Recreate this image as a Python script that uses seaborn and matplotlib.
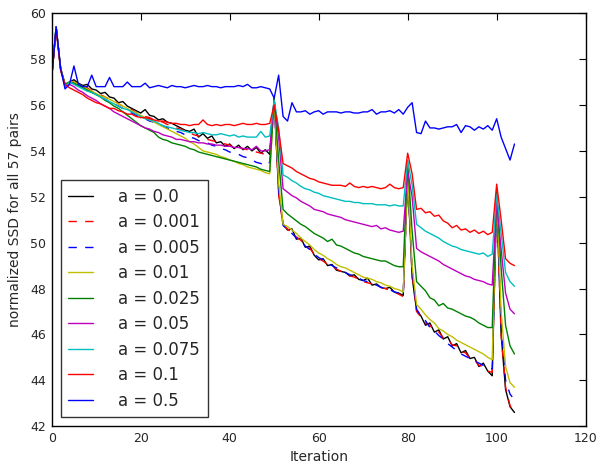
import matplotlib
matplotlib.use("Agg")
import matplotlib.pyplot as plt
import pandas as pd
import seaborn as sns

# iteration index shared by all runs
iterations = list(range(105))

# normalized SSD per run
ssd_a0 = [
    57.2, 59.4, 57.6, 56.9, 57.0, 57.1, 56.95, 56.85, 56.9, 56.7,
    56.65, 56.5, 56.55, 56.35, 56.3, 56.1, 56.15, 55.95, 55.85, 55.75,
    55.65, 55.8, 55.55, 55.5, 55.35, 55.4, 55.25, 55.2, 55.1, 55.0,
    54.9, 54.85, 54.95, 54.6, 54.75, 54.55, 54.65, 54.35, 54.4, 54.2,
    54.3, 54.1, 54.25, 54.05, 54.2, 54.0, 54.15, 53.9, 54.05, 53.85,
    56.3, 52.2, 50.8, 50.55, 50.6, 50.15, 50.2, 49.8, 49.85, 49.45,
    49.25, 49.3, 49.0, 49.05, 48.8, 48.75, 48.7, 48.55, 48.6, 48.4,
    48.35, 48.45, 48.15, 48.2, 48.05, 48.0, 48.05, 47.85, 47.8, 47.7,
    53.0, 48.5, 47.05, 46.8, 46.4, 46.5, 46.1, 46.2, 45.8, 45.9,
    45.5, 45.6, 45.2, 45.3, 44.95, 45.0, 44.6, 44.75, 44.4, 44.2,
    52.0, 46.0, 43.6, 42.85, 42.6,
]
ssd_a0001 = [
    57.2, 59.4, 57.6, 56.85, 57.0, 57.0, 56.9, 56.8, 56.75, 56.6,
    56.55, 56.45, 56.35, 56.25, 56.2, 56.05, 55.95, 55.85, 55.8, 55.65,
    55.6, 55.5, 55.45, 55.35, 55.3, 55.25, 55.15, 55.1, 55.0, 54.95,
    54.85, 54.8, 54.7, 54.65, 54.55, 54.5, 54.45, 54.4, 54.35, 54.3,
    54.25, 54.2, 54.15, 54.1, 54.05, 54.0, 53.95, 53.9, 53.85, 53.8,
    56.3, 52.1, 50.75, 50.6, 50.4, 50.25, 50.1, 49.9, 49.75, 49.5,
    49.3, 49.2, 49.05, 48.95, 48.85, 48.75, 48.65, 48.55, 48.5, 48.4,
    48.3, 48.25, 48.2, 48.1, 48.05, 48.0, 47.9, 47.85, 47.75, 47.65,
    53.0, 48.6, 47.0, 46.75, 46.5, 46.4, 46.15, 46.1, 45.85, 45.8,
    45.55, 45.5, 45.25, 45.2, 44.95, 44.9, 44.65, 44.6, 44.4, 44.35,
    52.0, 46.0, 43.7, 42.9, 42.6,
]
ssd_a0005 = [
    57.2, 59.4, 57.6, 56.85, 56.95, 56.95, 56.85, 56.75, 56.65, 56.55,
    56.45, 56.35, 56.25, 56.15, 56.05, 55.95, 55.85, 55.75, 55.65, 55.55,
    55.45, 55.4, 55.3, 55.25, 55.15, 55.1, 55.0, 54.95, 54.85, 54.8,
    54.7, 54.6, 54.55, 54.45, 54.4, 54.35, 54.25, 54.2, 54.1, 54.05,
    53.95, 53.9, 53.85, 53.75, 53.7, 53.6, 53.5, 53.45, 53.35, 53.5,
    56.2, 52.3, 50.75, 50.6, 50.4, 50.2, 50.05, 49.85, 49.7, 49.5,
    49.35, 49.25, 49.1, 49.0, 48.9, 48.8, 48.7, 48.6, 48.55, 48.45,
    48.35, 48.3, 48.2, 48.15, 48.05, 48.0, 47.95, 47.85, 47.8, 47.75,
    53.0, 48.8, 47.1, 46.8, 46.6, 46.3, 46.15, 45.95, 45.8, 45.6,
    45.45, 45.3, 45.15, 45.05, 44.95, 44.85, 44.75, 44.65, 44.55, 44.5,
    52.0, 46.5, 44.0, 43.4, 43.15,
]
ssd_a001 = [
    57.2, 59.4, 57.6, 56.9, 57.0, 57.0, 56.9, 56.8, 56.7, 56.6,
    56.5, 56.4, 56.35, 56.25, 56.15, 56.05, 55.95, 55.85, 55.75, 55.65,
    55.55, 55.45, 55.35, 55.25, 55.15, 55.05, 54.95, 54.85, 54.75, 54.65,
    54.55, 54.4, 54.3, 54.15, 54.0, 53.95, 53.9, 53.85, 53.75, 53.7,
    53.6, 53.55, 53.45, 53.4, 53.3, 53.25, 53.2, 53.15, 53.05, 53.0,
    56.2, 52.6, 50.8, 50.7, 50.55, 50.4, 50.2, 50.05, 49.9, 49.7,
    49.55, 49.45, 49.3, 49.2, 49.05, 48.95, 48.9, 48.8, 48.7, 48.6,
    48.5, 48.45, 48.4, 48.3, 48.25, 48.15, 48.1, 48.0, 47.95, 47.85,
    53.0, 49.0, 47.3, 47.1, 46.85, 46.65, 46.5, 46.25, 46.15, 46.0,
    45.9, 45.75, 45.65, 45.55, 45.45, 45.35, 45.25, 45.15, 45.0, 44.9,
    52.3, 47.0, 44.6, 43.9, 43.7,
]
ssd_a0025 = [
    57.2, 59.4, 57.6, 56.9, 57.0, 56.95, 56.85, 56.75, 56.65, 56.55,
    56.45, 56.35, 56.2, 56.1, 55.95, 55.85, 55.7, 55.55, 55.4, 55.25,
    55.1, 55.0, 54.9, 54.8, 54.6, 54.5, 54.45, 54.35, 54.3, 54.25,
    54.2, 54.1, 54.05, 53.95, 53.9, 53.85, 53.8, 53.75, 53.7, 53.65,
    53.6, 53.55, 53.5, 53.45, 53.4, 53.35, 53.3, 53.2, 53.15, 53.1,
    56.3, 53.6, 51.45, 51.25, 51.1, 50.95, 50.8, 50.7, 50.55, 50.4,
    50.3, 50.2, 50.05, 50.15, 49.9, 49.85, 49.75, 49.65, 49.55, 49.5,
    49.4, 49.35, 49.3, 49.25, 49.2, 49.2, 49.1, 49.0, 48.95, 48.95,
    53.5, 50.5, 48.3, 48.1, 47.9, 47.6, 47.5, 47.25, 47.35, 47.15,
    47.1, 47.0, 46.9, 46.8, 46.75, 46.65, 46.5, 46.4, 46.3, 46.3,
    52.2, 48.9, 46.4, 45.5, 45.15,
]
ssd_a005 = [
    57.2, 59.4, 57.6, 56.8, 56.9, 56.8, 56.65, 56.55, 56.4, 56.3,
    56.2, 56.05, 55.95, 55.85, 55.7, 55.6, 55.5, 55.4, 55.3, 55.2,
    55.1, 55.0, 54.95, 54.85, 54.8, 54.7, 54.65, 54.6, 54.5, 54.5,
    54.45, 54.4, 54.4, 54.35, 54.35, 54.3, 54.3, 54.25, 54.25, 54.2,
    54.2, 54.15, 54.15, 54.1, 54.1, 54.05, 54.2, 54.0, 54.0, 54.05,
    56.2, 54.6, 52.35, 52.2, 52.05, 51.95, 51.8, 51.7, 51.6, 51.45,
    51.4, 51.35, 51.25, 51.2, 51.15, 51.1, 51.0, 50.95, 50.9, 50.85,
    50.8, 50.75, 50.7, 50.75, 50.6, 50.65, 50.55, 50.5, 50.45, 50.5,
    53.1, 52.0, 49.75, 49.6, 49.5, 49.4, 49.3, 49.2, 49.05, 48.95,
    48.85, 48.75, 48.65, 48.55, 48.5, 48.4, 48.35, 48.3, 48.2, 48.15,
    51.8, 49.7, 47.8, 47.1, 46.9,
]
ssd_a0075 = [
    57.2, 59.4, 57.6, 56.8, 57.0, 56.9, 56.8, 56.7, 56.6, 56.55,
    56.45, 56.35, 56.25, 56.15, 56.05, 55.95, 55.85, 55.8, 55.7, 55.6,
    55.5, 55.4, 55.35, 55.3, 55.2, 55.1, 55.05, 55.0, 54.95, 54.9,
    54.85, 54.8, 54.8, 54.75, 54.8, 54.75, 54.7, 54.7, 54.75, 54.7,
    54.65, 54.7, 54.6, 54.65, 54.6, 54.6, 54.6, 54.85, 54.6, 54.65,
    56.2, 55.0, 52.95, 52.85, 52.7, 52.6, 52.45, 52.35, 52.3, 52.2,
    52.15, 52.05, 52.0, 51.95, 51.9, 51.85, 51.8, 51.8, 51.75, 51.75,
    51.7, 51.7, 51.7, 51.65, 51.65, 51.65, 51.6, 51.65, 51.6, 51.6,
    53.6, 52.5, 50.8, 50.65, 50.5, 50.4, 50.3, 50.2, 50.05, 49.95,
    49.85, 49.8, 49.7, 49.65, 49.6, 49.55, 49.5, 49.55, 49.4, 49.5,
    52.1, 50.4, 48.7, 48.3, 48.1,
]
ssd_a01 = [
    57.2, 59.3, 57.5, 56.9, 56.75, 56.65, 56.55, 56.45, 56.3, 56.2,
    56.1, 56.05, 55.95, 55.85, 55.85, 55.75, 55.7, 55.6, 55.6, 55.5,
    55.45, 55.45, 55.4, 55.35, 55.3, 55.3, 55.25, 55.2, 55.2, 55.15,
    55.15, 55.1, 55.15, 55.15, 55.35, 55.15, 55.1, 55.15, 55.1, 55.15,
    55.15, 55.1, 55.15, 55.2, 55.15, 55.15, 55.2, 55.15, 55.15, 55.2,
    56.0, 54.9, 53.45, 53.35, 53.25, 53.1, 53.0, 52.9, 52.8, 52.75,
    52.65, 52.6, 52.55, 52.5, 52.5, 52.5, 52.45, 52.6, 52.45, 52.4,
    52.45, 52.4, 52.45, 52.4, 52.35, 52.4, 52.55, 52.4, 52.35, 52.4,
    53.9, 53.0, 51.45, 51.5, 51.3, 51.35, 51.15, 51.2, 50.95, 50.85,
    50.65, 50.75, 50.55, 50.6, 50.45, 50.55, 50.4, 50.5, 50.35, 50.45,
    52.55, 51.0, 49.3, 49.1, 49.0,
]
ssd_a05 = [
    57.2, 59.4, 57.6, 56.7, 56.9, 57.7, 56.9, 56.8, 56.8, 57.3,
    56.8, 56.8, 56.8, 57.2, 56.8, 56.8, 56.8, 57.0, 56.8, 56.8,
    56.8, 56.95, 56.75, 56.8, 56.85, 56.8, 56.75, 56.85, 56.8, 56.8,
    56.75, 56.8, 56.85, 56.8, 56.8, 56.85, 56.8, 56.8, 56.75, 56.8,
    56.8, 56.8, 56.85, 56.8, 56.9, 56.75, 56.75, 56.8, 56.75, 56.7,
    56.3, 57.3, 55.5, 55.3, 56.1, 55.7, 55.7, 55.75, 55.6, 55.7,
    55.75, 55.6, 55.7, 55.7, 55.7, 55.65, 55.7, 55.7, 55.65, 55.65,
    55.7, 55.7, 55.8, 55.6, 55.7, 55.7, 55.75, 55.65, 55.8, 55.6,
    55.9, 56.1, 54.8, 54.75, 55.3, 55.0, 55.0, 54.95, 55.0, 55.05,
    55.05, 55.15, 54.8, 55.1, 55.05, 54.9, 55.05, 54.95, 55.1, 54.9,
    55.4, 54.6, 54.1, 53.6, 54.3,
]

labels = ["a = 0.0", "a = 0.001", "a = 0.005", "a = 0.01", "a = 0.025",
          "a = 0.05", "a = 0.075", "a = 0.1", "a = 0.5"]
series = [ssd_a0, ssd_a0001, ssd_a0005, ssd_a001, ssd_a0025,
          ssd_a005, ssd_a0075, ssd_a01, ssd_a05]

# classic matplotlib single-letter colours
colors = ["#000000", "#ff0000", "#0000ff", "#bfbf00", "#008000",
          "#bf00bf", "#00bfbf", "#ff0000", "#0000ff"]
dashed = (0, (6, 6))
styles = ["-", dashed, dashed, "-", "-", "-", "-", "-", "-"]

sns.set_style("white")
plt.rcParams["font.family"] = ["DejaVu Sans"]
plt.rcParams["xtick.direction"] = "in"
plt.rcParams["ytick.direction"] = "in"

fig = plt.figure(figsize=(6.01, 4.72), dpi=100)
ax = fig.add_axes([0.086, 0.097, 0.8885, 0.875])

for lab, vals, col, ls in zip(labels, series, colors, styles):
    df = pd.DataFrame({"Iteration": iterations, "ssd": vals})
    sns.lineplot(data=df, x="Iteration", y="ssd", color=col, linestyle=ls,
                 linewidth=1.0, label=lab, ax=ax)

ax.set_xlim(0, 120)
ax.set_ylim(42, 60)
ax.set_xticks(range(0, 121, 20))
ax.set_yticks(range(42, 61, 2))
ax.tick_params(axis="both", which="major", labelsize=9, length=5, width=0.8,
               top=True, right=True, color="black", pad=4)

for side in ax.spines.values():
    side.set_visible(True)
    side.set_color("black")
    side.set_linewidth(1.0)

ax.set_xlabel("Iteration", fontsize=10)
ax.set_ylabel("normalized SSD for all 57 pairs", fontsize=10, labelpad=6)

# legend sits in the empty lower-left corner
leg = ax.legend(loc="lower left", fontsize=12, handlelength=1.5,
                handletextpad=1.5, labelspacing=0.45, borderpad=0.45,
                frameon=True, fancybox=False, borderaxespad=0.55)
leg.get_frame().set_edgecolor("black")
leg.get_frame().set_linewidth(1.0)

fig.savefig("out.png", dpi=100)
